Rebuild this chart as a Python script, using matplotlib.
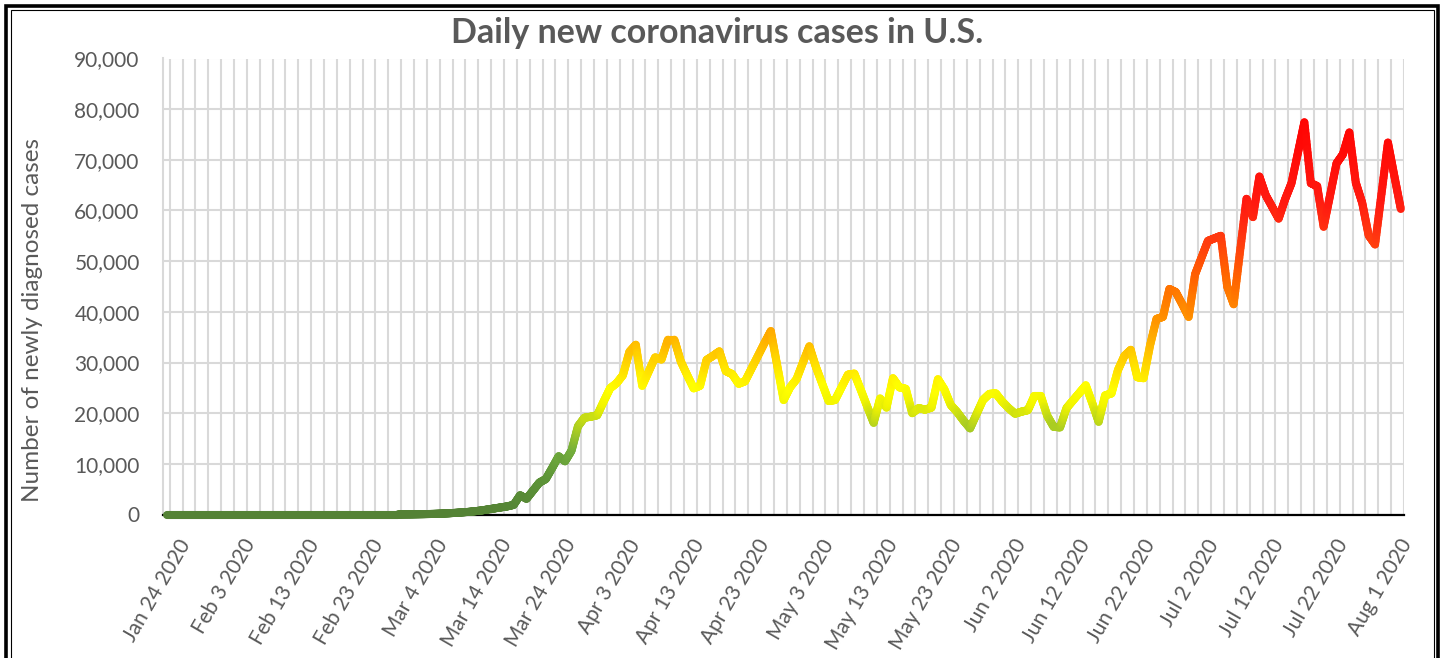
import numpy as np
import pandas as pd
import matplotlib
matplotlib.use('Agg')
import matplotlib.pyplot as plt
from matplotlib.collections import LineCollection
from matplotlib.colors import LinearSegmentedColormap
from matplotlib.patches import Rectangle
from matplotlib.transforms import ScaledTranslation

plt.rcParams['font.family'] = ['Lato', 'DejaVu Sans']

# ---- data ----
dates = pd.date_range('2020-01-23', '2020-08-02', freq='D')
cases = [0] * 37 + [
    20, 30, 50, 70, 100, 140, 190, 250, 330, 420,                        # Feb 29 - Mar 9
    520, 650, 800, 1000, 1200, 1400, 1600, 1900, 3800, 3100,             # Mar 10 - 19
    4700, 6300, 7000, 9200, 11500, 10500, 12600, 17400, 19100, 19300,    # Mar 20 - 29
    19600, 22300, 24900, 25900, 27500, 32100, 33500, 25400, 28200, 31000,
    30600, 34500, 34500, 30200, 27500, 24900, 25400, 30500, 31300, 32200,
    28300, 27700, 25800, 26300, 28800, 31300, 33800, 36200, 29400, 22600,
    25100, 26700, 30000, 33200, 29200, 25800, 22400, 22600, 25100, 27600,
    27800, 24600, 21300, 18100, 22900, 21100, 26900, 25100, 24800, 20000,
    21000, 20700, 21100, 26700, 24700, 21600, 20200, 18500, 17000, 19800,
    22600, 23800, 23900, 22300, 21000, 19900, 20300, 20600, 23400, 23400,
    19500, 17300, 17200, 21000, 22500, 24000, 25500, 22000, 18300, 23500,
    23900, 28500, 31300, 32500, 27100, 26900, 33400, 38600, 39000, 44500,
    43900, 41500, 39000, 47400, 50700, 54000, 54500, 55000, 45000, 41500,
    52000, 62300, 58700, 66700, 63000, 60700, 58400, 62200, 65400, 71400,
    77400, 65400, 64800, 56800, 63000, 69300, 71100, 75400, 65500, 61500,
    55100, 53300, 63300, 73400, 66800, 60300,
]
label_dates = dates[1::10]
yticks = np.arange(0, 90001, 10000)

title = 'Daily new coronavirus cases in U.S.'
ylabel = 'Number of newly diagnosed cases'
text_color = '#595959'
grid_color = '#d9d9d9'

# colour of the line depends on the value (vertical gradient like Excel)
grad_stops = [(0, '#548235'), (8000, '#5e9638'), (13000, '#74ae3c'),
              (18000, '#b4d21e'), (22000, '#f2f500'), (25000, '#ffff00'),
              (30000, '#ffd800'), (35000, '#ffb000'), (40000, '#ff8c00'),
              (47000, '#ff6400'), (55000, '#ff3810'), (62000, '#ff1a10'),
              (80000, '#ff0000')]
vmax = grad_stops[-1][0]
cmap = LinearSegmentedColormap.from_list('cases', [(v / vmax, c) for v, c in grad_stops])

W, H = 1444, 658
fig = plt.figure(figsize=(W / 100, H / 100), dpi=100)
ax = fig.add_axes([163.3 / W, 1 - 514.5 / H, (1404 - 163.3) / W, (514.5 - 58.5) / H])

x = np.arange(len(cases))
y = np.array(cases, dtype=float)

# split every segment in short pieces so the colour can change along it
sub = 16
segs, vals = [], []
for i in range(len(x) - 1):
    t = np.linspace(0, 1, sub + 1)
    px = x[i] + (x[i + 1] - x[i]) * t
    py = y[i] + (y[i + 1] - y[i]) * t
    for j in range(sub):
        segs.append([(px[j], py[j]), (px[j + 1], py[j + 1])])
        vals.append((py[j] + py[j + 1]) / 2)
lc = LineCollection(segs, cmap=cmap, norm=plt.Normalize(0, vmax),
                    linewidths=5.8, capstyle='round', joinstyle='round',
                    zorder=4, clip_on=False)
lc.set_array(np.array(vals))
ax.add_collection(lc)

ax.set_xlim(-0.5, len(cases) - 0.5)
ax.set_ylim(0, 90000)

ax.set_yticks(yticks)
ax.set_yticklabels([f'{v:,}' for v in yticks])
ax.set_xticks(np.arange(1, len(cases), 10))
ax.set_xticklabels([f'{d:%b} {d.day} {d.year}' for d in label_dates],
                   rotation=60, ha='right', va='center', rotation_mode='anchor')
ax.set_xticks(np.arange(0.5, len(cases), 2), minor=True)

ax.tick_params(axis='both', which='both', length=0, labelsize=15, labelcolor=text_color)
ax.tick_params(axis='y', pad=17)
ax.tick_params(axis='x', pad=19)
for lab in ax.get_xticklabels():
    lab.set_transform(lab.get_transform() + ScaledTranslation(0.13, 0, fig.dpi_scale_trans))

ax.yaxis.grid(True, color=grid_color, lw=1.5)
ax.xaxis.grid(True, which='minor', color=grid_color, lw=1.5)
ax.set_axisbelow(True)

for s in ['top', 'right']:
    ax.spines[s].set_visible(False)
ax.spines['left'].set_color(grid_color)
ax.spines['left'].set_linewidth(1.5)
ax.spines['bottom'].set_color('black')
ax.spines['bottom'].set_linewidth(1.6)
ax.spines['bottom'].set_zorder(3)

fig.text(717.5 / W, 1 - 33 / H, title, ha='center', va='center',
         fontsize=24.5, fontweight='bold', color=text_color)
fig.text(33 / W, 1 - 320 / H, ylabel, rotation=90, ha='center', va='center',
         fontsize=17.5, color=text_color)

# double frame round the chart
fig.add_artist(Rectangle((6, -20), 1432, H - 5.5 + 20, transform=None,
                         fill=False, ec='black', lw=2.6))
fig.add_artist(Rectangle((10.5, -20), 1423, H - 9.5 + 20, transform=None,
                         fill=False, ec='black', lw=0.8))

fig.savefig('out.png', dpi=100)
